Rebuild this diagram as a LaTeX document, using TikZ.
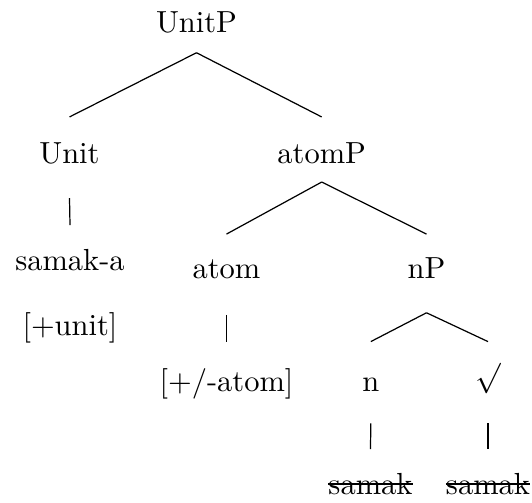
\documentclass[tikz,border=0pt]{standalone}
\usepackage{tikz}
\usetikzlibrary{calc}
\tikzset{
  lbl/.style={inner sep=0pt, outer sep=0pt, text height=7pt, text depth=2.5pt, anchor=base, font=\fontsize{10}{12}\selectfont},
  branch/.style={line width=0.4pt, black},
  strike/.style={line width=0.4pt, black}
}
\begin{document}
\begin{tikzpicture}[x=0.3279pt,y=-0.3279pt]
\useasboundingbox (0,0) rectangle (532,502);
% nodes
\node[lbl] (UnitP) at (196.5,32) {UnitP};
\node[lbl] (Unit) at (69.5,163) {Unit};
\node[lbl] (atomP) at (321.7,163) {atomP};
\node[lbl] (samaka) at (70,270) {samak-a};
\node[lbl] (unitf) at (70,335) {[+unit]};
\node[lbl] (atom) at (226.5,278) {atom};
\node[lbl] (nP) at (426.5,278) {nP};
\node[lbl] (atomf) at (226.5,391) {[+/-atom]};
\node[lbl] (n) at (370.8,391) {n};
\node[lbl] (root) at (488,391) {\raisebox{1.5pt}{$\surd$}};
\node[lbl] (s1) at (370.5,494) {samak};
\node[lbl] (s2) at (488,494) {samak};
% strike-through
\draw[strike] ($(s1.base west)+(0,-10)$) -- ($(s1.base east)+(0,-10)$);
\draw[strike] ($(s2.base west)+(0,-10)$) -- ($(s2.base east)+(0,-10)$);
% edges
\draw[branch] ([yshift=-4.3pt]UnitP.south) -- ([yshift=8.1pt]Unit.north);
\draw[branch] ([yshift=-4.3pt]UnitP.south) -- ([yshift=8.1pt]atomP.north);
\draw[branch] ([yshift=-9.0pt]Unit.south) -- ([yshift=7.75pt]samaka.north);
\draw[branch] ([yshift=-3.74pt]atomP.south) -- ([yshift=7.4pt]atom.north);
\draw[branch] ([yshift=-3.74pt]atomP.south) -- ([yshift=7.4pt]nP.north);
\draw[branch] ([yshift=-9.6pt]atom.south) -- ([yshift=9.2pt]atomf.north);
\draw[branch] ([yshift=-8.9pt]nP.south) -- ([yshift=9.2pt]n.north);
\draw[branch] ([yshift=-8.9pt]nP.south) -- ([yshift=9.2pt]root.north);
\draw[branch] ([yshift=-8.1pt]n.south) -- ([yshift=7.75pt]s1.north);
\draw[branch] ([yshift=-8.1pt]root.south) -- ([yshift=7.75pt]s2.north);
\end{tikzpicture}
\end{document}
